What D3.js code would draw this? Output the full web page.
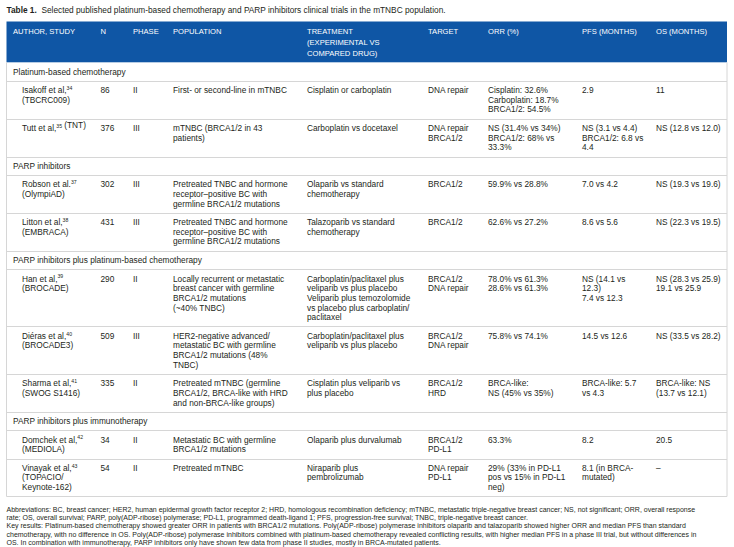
<!DOCTYPE html>
<html>
<head>
<meta charset="utf-8">
<script src="https://cdn.jsdelivr.net/npm/d3@7"></script>
<style>
  body { margin: 0; background: #fff; }
  svg { display: block; font-family: "Liberation Sans", Arial, Helvetica, sans-serif; }
</style>
</head>
<body>
<div id="table"></div>
<script>
// Table content
const titleBold = 'Table 1.';
const titleText = 'Selected published platinum-based chemotherapy and PARP inhibitors clinical trials in the mTNBC population.';

const columns = ['author', 'n', 'phase', 'population', 'treatment', 'target', 'orr', 'pfs', 'os'];
const headers = ['AUTHOR, STUDY', 'N', 'PHASE', 'POPULATION', 'TREATMENT\n(EXPERIMENTAL VS\nCOMPARED DRUG)',
                 'TARGET', 'ORR (%)', 'PFS (MONTHS)', 'OS (MONTHS)'];

const sections = ['Platinum-based chemotherapy', 'PARP inhibitors',
                  'PARP inhibitors plus platinum-based chemotherapy', 'PARP inhibitors plus immunotherapy'];

// one entry per trial, "^nn" = superscript reference
const trialSection = [0, 0, 1, 1, 2, 2, 2, 3, 3];
const authors = ['Isakoff et al,^34\n(TBCRC009)', 'Tutt et al,^35 (TNT)', 'Robson et al.^37\n(OlympiAD)',
                 'Litton et al,^38\n(EMBRACA)', 'Han et al,^39\n(BROCADE)', 'Diéras et al,^40\n(BROCADE3)',
                 'Sharma et al,^41\n(SWOG S1416)', 'Domchek et al,^42\n(MEDIOLA)', 'Vinayak et al,^43\n(TOPACIO/\nKeynote-162)'];
const nPatients = ['86', '376', '302', '431', '290', '509', '335', '34', '54'];
const phases = ['II', 'III', 'III', 'III', 'II', 'III', 'II', 'II', 'II'];
const populations = [
  'First- or second-line in mTNBC',
  'mTNBC (BRCA1/2 in 43\npatients)',
  'Pretreated TNBC and hormone\nreceptor–positive BC with\ngermline BRCA1/2 mutations',
  'Pretreated TNBC and hormone\nreceptor–positive BC with\ngermline BRCA1/2 mutations',
  'Locally recurrent or metastatic\nbreast cancer with germline\nBRCA1/2 mutations\n(~40% TNBC)',
  'HER2-negative advanced/\nmetastatic BC with germline\nBRCA1/2 mutations (48%\nTNBC)',
  'Pretreated mTNBC (germline\nBRCA1/2, BRCA-like with HRD\nand non-BRCA-like groups)',
  'Metastatic BC with germline\nBRCA1/2 mutations',
  'Pretreated mTNBC'
];
const treatments = [
  'Cisplatin or carboplatin',
  'Carboplatin vs docetaxel',
  'Olaparib vs standard\nchemotherapy',
  'Talazoparib vs standard\nchemotherapy',
  'Carboplatin/paclitaxel plus\nveliparib vs plus placebo\nVeliparib plus temozolomide\nvs placebo plus carboplatin/\npaclitaxel',
  'Carboplatin/paclitaxel plus\nveliparib vs plus placebo',
  'Cisplatin plus veliparib vs\nplus placebo',
  'Olaparib plus durvalumab',
  'Niraparib plus\npembrolizumab'
];
const targets = ['DNA repair', 'DNA repair\nBRCA1/2', 'BRCA1/2', 'BRCA1/2', 'BRCA1/2\nDNA repair',
                 'BRCA1/2\nDNA repair', 'BRCA1/2\nHRD', 'BRCA1/2\nPD-L1', 'DNA repair\nPD-L1'];
const orr = [
  'Cisplatin: 32.6%\nCarboplatin: 18.7%\nBRCA1/2: 54.5%',
  'NS (31.4% vs 34%)\nBRCA1/2: 68% vs\n33.3%',
  '59.9% vs 28.8%',
  '62.6% vs 27.2%',
  '78.0% vs 61.3%\n28.6% vs 61.3%',
  '75.8% vs 74.1%',
  'BRCA-like:\nNS (45% vs 35%)',
  '63.3%',
  '29% (33% in PD-L1\npos vs 15% in PD-L1\nneg)'
];
const pfs = ['2.9', 'NS (3.1 vs 4.4)\nBRCA1/2: 6.8 vs\n4.4', '7.0 vs 4.2', '8.6 vs 5.6', 'NS (14.1 vs\n12.3)\n7.4 vs 12.3',
             '14.5 vs 12.6', 'BRCA-like: 5.7\nvs 4.3', '8.2', '8.1 (in BRCA-\nmutated)'];
const os = ['11', 'NS (12.8 vs 12.0)', 'NS (19.3 vs 19.6)', 'NS (22.3 vs 19.5)', 'NS (28.3 vs 25.9)\n19.1 vs 25.9',
            'NS (33.5 vs 28.2)', 'BRCA-like: NS\n(13.7 vs 12.1)', '20.5', '–'];

const footnotes = [
  'Abbreviations: BC, breast cancer; HER2, human epidermal growth factor receptor 2; HRD, homologous recombination deficiency; mTNBC, metastatic triple-negative breast cancer; NS, not significant; ORR, overall response',
  'rate; OS, overall survival; PARP, poly(ADP-ribose) polymerase; PD-L1, programmed death-ligand 1; PFS, progression-free survival; TNBC, triple-negative breast cancer.',
  'Key results: Platinum-based chemotherapy showed greater ORR in patients with BRCA1/2 mutations. Poly(ADP-ribose) polymerase inhibitors olaparib and talazoparib showed higher ORR and median PFS than standard',
  'chemotherapy, with no difference in OS. Poly(ADP-ribose) polymerase inhibitors combined with platinum-based chemotherapy revealed conflicting results, with higher median PFS in a phase III trial, but without differences in',
  'OS. In combination with immunotherapy, PARP inhibitors only have shown few data from phase II studies, mostly in BRCA-mutated patients.'
];

// Layout
const W = 734, H = 547;
const left = 6.5, right = 727;
const headTop = 21.5, headBottom = 62.3;
const lineH = 9.65, padTop = 4.5, padBottom = 4.4;
const bodySize = 8.3, headSize = 7.6;
const blue = '#0f56a5', rule = '#d6d6d6', ink = '#231f20';

const xCol = d3.scaleOrdinal()
    .domain(columns)
    .range([13, 100.5, 133, 173, 307, 428, 488, 582, 656]);
const authorIndent = 9;

const svg = d3.select('#table')
    .append('svg')
    .attr('width', W)
    .attr('height', H);

// Title
const title = svg.append('text')
    .attr('x', left)
    .attr('y', 12.8)
    .attr('font-size', 8.3)
    .attr('fill', ink);
title.append('tspan').attr('font-weight', 'bold').text(titleBold);
title.append('tspan').text('\u00a0 ' + titleText);

// write a multi-line cell, "^nn" becomes a superscript
const writeCell = (g, x, yTop, str, size, color, lh) => {
    str.split('\n').forEach((line, i) => {
        const t = g.append('text')
            .attr('x', x)
            .attr('y', yTop + (i + 0.5) * lh + size * 0.35)
            .attr('font-size', size)
            .attr('fill', color);
        line.split(/(\^\d+)/).filter(p => p !== '').forEach(p => {
            if (p[0] === '^') {
                t.append('tspan').attr('font-size', size * 0.62).attr('dy', -size * 0.38).text(p.slice(1));
                t.append('tspan').attr('font-size', size).attr('dy', size * 0.38).text('');
            } else {
                t.append('tspan').text(p);
            }
        });
    });
};

// Header band
svg.append('rect')
    .attr('x', left)
    .attr('y', headTop)
    .attr('width', right - left)
    .attr('height', headBottom - headTop)
    .attr('fill', blue);
const headG = svg.append('g');
headers.forEach((h, i) => {
    writeCell(headG, xCol(columns[i]), headTop + 4.6, h, headSize, '#fff', 10.8);
});

// Build row list
const rows = [];
sections.forEach((s, si) => {
    rows.push({ type: 'section', text: s, lines: 1 });
    trialSection.forEach((sec, i) => {
        if (sec === si) {
            const cells = [authors[i], nPatients[i], phases[i], populations[i], treatments[i],
                           targets[i], orr[i], pfs[i], os[i]];
            rows.push({ type: 'trial', cells: cells, lines: d3.max(cells, c => c.split('\n').length) });
        }
    });
});

let y = headBottom;
rows.forEach(r => {
    r.top = y;
    r.height = r.lines * lineH + padTop + padBottom;
    y += r.height;
});
const tableBottom = y;

const bodyG = svg.append('g');
rows.forEach(r => {
    if (r.type === 'section') {
        writeCell(bodyG, xCol('author'), r.top + padTop, r.text, bodySize, ink, lineH);
    } else {
        r.cells.forEach((c, ci) => {
            const x = xCol(columns[ci]) + (ci === 0 ? authorIndent : 0);
            writeCell(bodyG, x, r.top + padTop, c, bodySize, ink, lineH);
        });
    }
});

// Row rules and outline
svg.append('g').selectAll('line')
    .data(rows.slice(1))
    .enter()
    .append('line')
    .attr('x1', left)
    .attr('x2', right)
    .attr('y1', d => Math.round(d.top) + 0.5)
    .attr('y2', d => Math.round(d.top) + 0.5)
    .attr('stroke', rule)
    .attr('stroke-width', 1);
svg.append('path')
    .attr('d', `M${left},${headBottom}V${Math.round(tableBottom) + 0.5}H${right}V${headBottom}`)
    .attr('fill', 'none')
    .attr('stroke', rule)
    .attr('stroke-width', 1);

// Footnotes
svg.append('g').selectAll('text')
    .data(footnotes)
    .enter()
    .append('text')
    .attr('x', left)
    .attr('y', (d, i) => 511.5 + i * 8.4)
    .attr('font-size', 7.0)
    .attr('fill', ink)
    .text(d => d);
</script>
</body>
</html>
